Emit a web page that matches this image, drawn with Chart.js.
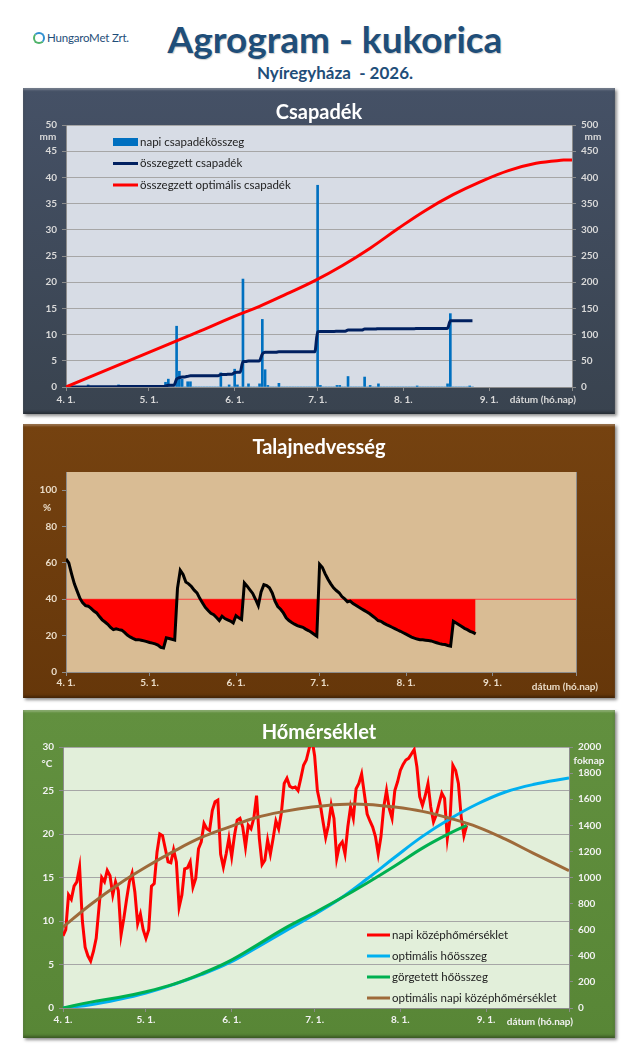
<!DOCTYPE html>
<html>
<head>
<meta charset="utf-8">
<title>Agrogram - kukorica</title>
<script src="https://cdn.jsdelivr.net/npm/chart.js@4.4.1/dist/chart.umd.min.js"></script>
<style>
  body { margin: 0; background: #fff; font-family: Lato, "Open Sans", sans-serif; }
  #page { position: relative; width: 640px; height: 1059px; overflow: hidden; }
  .logo { position: absolute; left: 33px; top: 31px; font-size: 11.5px; color: #1f4e79; letter-spacing: -0.2px; }
  .logo span { display: inline-block; width: 8px; height: 8px; border-radius: 50%; border: 2px solid #2f8fd0;
    border-left-color: #4fb36a; border-bottom-color: #4fb36a; vertical-align: -2px; margin-right: 2px; }
  h1 { position: absolute; left: 0; width: 670px; top: 16px; margin: 0; text-align: center;
    font-size: 37px; line-height: 46px; font-weight: bold; color: #1f4e79; text-shadow: 1px 1px 1px rgba(0,0,0,0.2); }
  h2 { position: absolute; left: 0; width: 670px; top: 62px; margin: 0; text-align: center;
    font-size: 17px; line-height: 22px; font-weight: bold; color: #1f4e79; }
  .panel { position: absolute; left: 23px; width: 592px;
    box-shadow: inset 0 2px 2px rgba(255,255,255,0.25), inset 0 -2px 3px rgba(0,0,0,0.35), 2px 2px 3px rgba(0,0,0,0.45); }
  .panel canvas { position: absolute; left: 0; top: 0; }
  #p1 { top: 88px; height: 326px; background: linear-gradient(#455166, #39434f); }
  #p2 { top: 424px; height: 274px; background: linear-gradient(#754210, #66370a); }
  #p3 { top: 710px; height: 328px; background: linear-gradient(#62903f, #588636); }
</style>
</head>
<body>
<div id="page">
  <div class="logo"><span></span>HungaroMet Zrt.</div>
  <h1>Agrogram - kukorica</h1>
  <h2>Nyíregyháza &nbsp;- 2026.</h2>
  <div class="panel" id="p1"><canvas id="rainChart" width="592" height="326"></canvas></div>
  <div class="panel" id="p2"><canvas id="soilChart" width="592" height="274"></canvas></div>
  <div class="panel" id="p3"><canvas id="tempChart" width="592" height="328"></canvas></div>
</div>
<script>
Chart.defaults.font.family = 'Lato, "Open Sans", sans-serif';
Chart.defaults.animation = false;

// x axis: days from 4. 1.
const monthDays = [0, 30, 61, 91, 122, 153, 183];
const monthLabels = ['4. 1.', '5. 1.', '6. 1.', '7. 1.', '8. 1.', '9. 1.', ''];

// Csapadék (mm / day, from 4. 1.)
const precipDaily = [
  0, 0, 0, 0, 0, 0, 0, 0, 0.4, 0,
  0, 0, 0, 0, 0, 0, 0, 0, 0, 0.4,
  0, 0, 0, 0, 0, 0, 0, 0, 0, 0,
  0, 0, 0, 0, 0, 0, 0.9, 1.5, 0, 0,
  11.6, 3.0, 1.5, 0, 1.0, 1.0, 0, 0, 0, 0,
  0, 0, 0, 0, 0, 0, 2.7, 0, 0, 0.4,
  0, 3.4, 0.4, 0, 20.6, 0, 0.6, 0, 0, 0,
  0.6, 12.9, 3.3, 0.3, 0, 0, 0, 0.7, 0, 0,
  0, 0, 0, 0, 0, 0, 0, 0, 0, 0,
  0, 38.5, 0.3, 0, 0, 0, 0, 0, 0.3, 0.3,
  0, 0, 2.0, 0, 0, 0, 0, 0, 1.9, 0,
  0.3, 0, 0, 0.6, 0, 0, 0, 0, 0, 0,
  0, 0, 0, 0, 0, 0, 0, 0.2, 0, 0,
  0, 0, 0, 0, 0, 0, 0, 0, 0.6, 14.0,
  0, 0, 0, 0, 0, 0, 0.2, 0
];
const precipCumulative = [
  0, 0, 0, 0, 0, 0, 0, 0, 0.4, 0.4,
  0.4, 0.4, 0.4, 0.4, 0.4, 0.4, 0.4, 0.4, 0.4, 0.8,
  0.8, 0.8, 0.8, 0.8, 0.8, 0.8, 0.8, 0.8, 0.8, 0.8,
  0.8, 0.8, 0.8, 0.8, 0.8, 0.8, 1.7, 3.2, 3.2, 3.2,
  14.8, 17.8, 19.3, 19.3, 20.3, 21.3, 21.3, 21.3, 21.3, 21.3,
  21.3, 21.3, 21.3, 21.3, 21.3, 21.3, 24.0, 24.0, 24.0, 24.4,
  24.4, 27.8, 28.2, 28.2, 48.8, 48.8, 49.4, 49.4, 49.4, 49.4,
  50.0, 62.9, 66.2, 66.5, 66.5, 66.5, 66.5, 67.2, 67.2, 67.2,
  67.2, 67.2, 67.2, 67.2, 67.2, 67.2, 67.2, 67.2, 67.2, 67.2,
  67.2, 105.7, 106.0, 106.0, 106.0, 106.0, 106.0, 106.0, 106.3, 106.6,
  106.6, 106.6, 108.6, 108.6, 108.6, 108.6, 108.6, 108.6, 110.5, 110.5,
  110.8, 110.8, 110.8, 111.4, 111.4, 111.4, 111.4, 111.4, 111.4, 111.4,
  111.4, 111.4, 111.4, 111.4, 111.4, 111.4, 111.4, 111.6, 111.6, 111.6,
  111.6, 111.6, 111.6, 111.6, 111.6, 111.6, 111.6, 111.6, 112.2, 126.2,
  126.2, 126.2, 126.2, 126.2, 126.2, 126.2, 126.4, 126.4
];
const precipOptDays = [0, 10, 20, 30, 40, 50, 60, 70, 80, 90, 100, 110, 120, 130, 140, 150, 160, 170, 180, 183];
const precipOptValues = [0, 22, 44, 66, 88, 110, 133, 154, 178, 203, 232, 265, 302, 337, 367, 392, 413, 427, 433, 433];

// Talajnedvesség (%)
const soilMoisture = [
  62.3, 60, 54, 48.5, 44.5, 40.5, 38, 36.5, 36.2, 35,
  33.5, 32.5, 30.5, 28.7, 27.5, 26.2, 24.5, 23.3, 23.7, 23.3,
  23.0, 21.8, 20.3, 19.3, 18.5, 17.8, 17.8, 17.5, 17.1, 16.7,
  16.2, 15.9, 15.5, 14.8, 13.5, 13.2, 18.8, 18.4, 18.0, 17.6,
  46, 56, 53.7, 49.5, 48.5, 47, 45, 43.5, 40.5, 38,
  35.5, 33.8, 32.3, 31.5, 30, 28.3, 30.7, 29.4, 28.7, 28.0,
  27.0, 31.0, 29.8, 28.9, 49, 47.2, 45.2, 43.2, 40, 36.5,
  44, 48, 47.5, 46.3, 43.5, 39, 36, 34.5, 32.5, 29.8,
  28.3, 27.2, 26.3, 25.5, 25.0, 24.6, 23.6, 22.8, 21.9, 20.8,
  19.7, 59.2, 57.5, 54, 51, 48.5, 46.3, 44.8, 43.6, 41.5,
  40.2, 38.6, 39, 37.6, 36.7, 35.7, 34.8, 33.9, 33, 32,
  30.8, 29.6, 28.3, 27.9, 26.9, 26.1, 25.4, 24.6, 23.9, 23.1,
  22.4, 21.6, 20.8, 20.0, 19.2, 18.6, 18.1, 17.8, 17.7, 17.5,
  17.3, 17.1, 16.6, 16.1, 15.6, 15.3, 15.1, 14.6, 14.2, 27.9,
  27.0, 26.0, 25.0, 24.0, 23.3, 22.4, 21.8, 21.0
];
const soilLimit = 40;
const soilTicks = [0, 20, 40, 60, 80, 100];

// Hőmérséklet (°C) and hőösszeg (foknap)
const tempDaily = [
  8.3, 9.0, 13.0, 12.5, 14.0, 14.5, 16.2, 10.0, 7.0, 6.0,
  5.4, 6.5, 8.0, 11.5, 15.0, 14.5, 15.8, 15.2, 13.0, 14.5,
  13.5, 8.4, 10.3, 12.5, 14.5, 15.5, 13.3, 9.7, 10.8, 9.0,
  8.0, 9.0, 14.0, 14.3, 17.9, 20.0, 19.8, 18.3, 16.8, 16.7,
  18.2, 16.8, 11.6, 13.0, 16.0, 16.1, 16.8, 13.9, 14.9, 18.3,
  19.1, 21.2, 20.6, 20.4, 22.7, 23.7, 23.9, 17.7, 16.2, 17.7,
  19.5, 17.4, 19.8, 21.6, 21.8, 20.8, 18.5, 21.0, 20.6, 21.8,
  24.4, 19.5, 16.5, 17.0, 19.3, 17.7, 19.5, 21.5, 20.6, 22.5,
  25.8, 26.4, 25.5, 25.3, 25.4, 25.0, 26.4, 27.9, 28.5, 29.8,
  31.0, 29.0, 25.0, 23.5, 21.5, 19.6, 21.0, 23.3, 21.8, 17.2,
  18.7, 19.1, 17.7, 20.8, 23.1, 21.8, 25.2, 25.8, 26.9, 24.6,
  22.3, 21.5, 20.8, 19.7, 17.7, 19.7, 23.1, 25.0, 22.9, 21.8,
  25.0, 26.0, 27.3, 28.0, 28.5, 28.7, 29.2, 29.7, 27.7, 24.3,
  23.3, 24.4, 25.8, 23.1, 21.4, 22.2, 23.5, 24.7, 24.1, 19.5,
  21.8, 27.9, 27.3, 25.8, 22.0, 19.8, 21.0
];
const tempOptDays = [0, 10, 20, 30, 40, 50, 60, 70, 80, 90, 100, 110, 120, 130, 140, 150, 160, 170, 183];
const tempOptValues = [9.3, 11.9, 14.2, 16.2, 18.0, 19.6, 20.8, 21.9, 22.6, 23.1, 23.4, 23.4, 23.1, 22.6, 21.8, 20.8, 19.4, 17.8, 15.8];
const heatOptDays = [0, 10, 20, 30, 40, 50, 60, 70, 80, 90, 100, 110, 120, 130, 140, 150, 160, 170, 183];
const heatOptValues = [0, 25, 65, 115, 180, 255, 345, 462, 585, 705, 835, 990, 1155, 1315, 1450, 1565, 1655, 1712, 1762];
const heatSumDays = [0, 10, 20, 30, 40, 50, 60, 70, 80, 90, 100, 110, 120, 130, 140, 146];
const heatSumValues = [0, 45, 80, 125, 183, 262, 357, 480, 608, 720, 835, 958, 1088, 1225, 1340, 1400];

const daily = arr => arr.map((v, i) => ({ x: i, y: v }));
const paired = (days, vals) => days.map((d, i) => ({ x: d, y: vals[i] }));

const tickFont = { size: 10, weight: 'bold' };
const axisGray = '#8c8c8c';

// plot area colour
const plotBg = {
  id: 'plotBg',
  beforeDraw(chart, args, opts) {
    const { ctx, chartArea: a } = chart;
    ctx.save();
    ctx.fillStyle = opts.color;
    ctx.fillRect(a.left, a.top, a.width, a.height);
    ctx.restore();
  }
};

// unit texts (mm, %, °C, foknap, dátum)
const axisNotes = {
  id: 'axisNotes',
  afterDraw(chart, args, opts) {
    const { ctx, chartArea: a } = chart;
    ctx.save();
    ctx.font = 'bold 10px Lato, sans-serif';
    ctx.fillStyle = opts.color;
    ctx.textBaseline = 'middle';
    opts.notes.forEach(n => {
      ctx.textAlign = n.align;
      const x = (n.side === 'left' ? a.left : a.right) + n.dx;
      const y = (n.from === 'top' ? a.top : a.bottom) + n.dy;
      ctx.fillText(n.text, x, y);
    });
    ctx.restore();
  }
};

// legend drawn inside the plot area
const insideLegend = {
  id: 'insideLegend',
  afterDatasetsDraw(chart, args, opts) {
    const { ctx, chartArea: a } = chart;
    ctx.save();
    ctx.font = '11.5px Lato, sans-serif';
    ctx.textBaseline = 'middle';
    ctx.textAlign = 'left';
    opts.items.forEach((idx, k) => {
      const ds = chart.data.datasets[idx];
      const x = a.left + opts.x;
      const y = (opts.fromBottom ? a.bottom - opts.y : a.top + opts.y) + k * opts.step;
      if (ds.type === 'bar') {
        ctx.fillStyle = ds.backgroundColor;
        ctx.fillRect(x, y - 4, opts.len, 8);
      } else {
        ctx.strokeStyle = ds.borderColor;
        ctx.lineWidth = 3;
        ctx.beginPath();
        ctx.moveTo(x, y);
        ctx.lineTo(x + opts.len, y);
        ctx.stroke();
      }
      ctx.fillStyle = '#222';
      ctx.fillText(ds.label, x + opts.len + 2, y);
    });
    ctx.restore();
  }
};

function dayAxis(color, height, pad) {
  return {
    type: 'linear', min: 0, max: 183, offset: false,
    afterBuildTicks: s => { s.ticks = monthDays.map(v => ({ value: v })); },
    afterFit: s => { s.height = height; },
    ticks: { color: color, font: tickFont, padding: pad, maxRotation: 0, autoSkip: false,
      callback: (v, i) => monthLabels[i] },
    grid: { drawOnChartArea: false, offset: false, color: axisGray, tickLength: 4 },
    border: { color: axisGray }
  };
}

function valueAxis(pos, max, step, color, width, gridOn) {
  return {
    position: pos, min: 0, max: max,
    afterFit: s => { s.width = width; },
    ticks: { stepSize: step, color: color, font: tickFont, padding: 5, callback: v => String(v) },
    grid: { drawOnChartArea: gridOn, color: '#a6a6a6', tickColor: axisGray, tickLength: 4 },
    border: { color: axisGray }
  };
}

function titleOpts(text, top, bottom) {
  return { display: true, text: text, color: '#ffffff', font: { size: 20, weight: 'bold' },
    padding: { top: top, bottom: bottom } };
}

// Csapadék
new Chart(document.getElementById('rainChart'), {
  type: 'bar',
  data: {
    datasets: [
      { type: 'bar', label: 'napi csapadékösszeg', data: daily(precipDaily), backgroundColor: '#0070c0',
        barThickness: 2, yAxisID: 'y', order: 2 },
      { type: 'line', label: 'összegzett csapadék', data: daily(precipCumulative), borderColor: '#002060',
        borderWidth: 3, pointRadius: 0, cubicInterpolationMode: 'monotone', yAxisID: 'y2', order: 1 },
      { type: 'line', label: 'összegzett optimális csapadék', data: paired(precipOptDays, precipOptValues),
        borderColor: '#ff0000', borderWidth: 3, pointRadius: 0, tension: 0.4, yAxisID: 'y2', order: 0 }
    ]
  },
  options: {
    responsive: false,
    layout: { padding: 0 },
    scales: {
      x: dayAxis('#d9d9d9', 27, 3),
      y: valueAxis('left', 50, 5, '#d9d9d9', 43, true),
      y2: valueAxis('right', 500, 50, '#d9d9d9', 43, false)
    },
    plugins: {
      legend: { display: false },
      tooltip: { enabled: false },
      title: titleOpts('Csapadék', 13, 0),
      plotBg: { color: '#d7dce5' },
      axisNotes: { color: '#d9d9d9', notes: [
        { text: 'mm', side: 'left', dx: -18, from: 'top', dy: 12, align: 'center' },
        { text: 'mm', side: 'right', dx: 21, from: 'top', dy: 12, align: 'center' },
        { text: 'dátum (hó.nap)', side: 'right', dx: 4, from: 'bottom', dy: 13, align: 'right' }
      ] },
      insideLegend: { items: [0, 1, 2], x: 47, y: 17, step: 21.5, len: 25 }
    }
  },
  plugins: [plotBg, axisNotes, insideLegend]
});

// Talajnedvesség
new Chart(document.getElementById('soilChart'), {
  type: 'line',
  data: {
    datasets: [
      { label: 'talajnedvesség', data: daily(soilMoisture), borderColor: '#000000', borderWidth: 3,
        pointRadius: 0, tension: 0, order: 0 },
      { label: 'hiány', data: soilMoisture.map((v, i) => ({ x: i, y: soilLimit })), borderColor: 'rgba(0,0,0,0)',
        borderWidth: 0, pointRadius: 0, order: 1,
        fill: { target: 0, above: '#ff0000', below: 'rgba(0,0,0,0)' } },
      { label: 'határ', data: [{ x: 0, y: soilLimit }, { x: 183, y: soilLimit }], borderColor: '#ff4040',
        borderWidth: 1, pointRadius: 0, order: 2 }
    ]
  },
  options: {
    responsive: false,
    layout: { padding: 0 },
    scales: {
      x: dayAxis('#eadcc8', 26, 1),
      y: {
        position: 'left', min: 0, max: 110,
        afterBuildTicks: s => { s.ticks = soilTicks.map(v => ({ value: v })); },
        afterFit: s => { s.width = 43; },
        ticks: { color: '#eadcc8', font: tickFont, padding: 5 },
        grid: { drawOnChartArea: false, color: axisGray, tickLength: 4 },
        border: { color: axisGray }
      },
      y2: {
        position: 'right', min: 0, max: 110, display: true,
        afterFit: s => { s.width = 39; },
        ticks: { display: false },
        grid: { display: false },
        border: { display: true, color: axisGray }
      }
    },
    plugins: {
      legend: { display: false },
      tooltip: { enabled: false },
      title: titleOpts('Talajnedvesség', 12, 12),
      plotBg: { color: '#d9bc94' },
      axisNotes: { color: '#eadcc8', notes: [
        { text: '%', side: 'left', dx: -19, from: 'top', dy: 36, align: 'center' },
        { text: 'dátum (hó.nap)', side: 'right', dx: 22, from: 'bottom', dy: 15, align: 'right' }
      ] }
    }
  },
  plugins: [plotBg, axisNotes]
});

// Hőmérséklet
new Chart(document.getElementById('tempChart'), {
  type: 'line',
  data: {
    datasets: [
      { label: 'napi középhőmérséklet', data: daily(tempDaily), borderColor: '#ff0000', borderWidth: 3,
        pointRadius: 0, tension: 0, yAxisID: 'y', order: 3 },
      { label: 'optimális hőösszeg', data: paired(heatOptDays, heatOptValues), borderColor: '#00b0f0',
        borderWidth: 3, pointRadius: 0, tension: 0.4, yAxisID: 'y2', order: 2 },
      { label: 'görgetett hőösszeg', data: paired(heatSumDays, heatSumValues), borderColor: '#00b050',
        borderWidth: 3, pointRadius: 0, tension: 0.4, yAxisID: 'y2', order: 1 },
      { label: 'optimális napi középhőmérséklet', data: paired(tempOptDays, tempOptValues), borderColor: '#9e6a3a',
        borderWidth: 3, pointRadius: 0, tension: 0.4, yAxisID: 'y', order: 0 }
    ]
  },
  options: {
    responsive: false,
    layout: { padding: 0 },
    scales: {
      x: dayAxis('#f2f2f2', 30, 2),
      y: valueAxis('left', 30, 5, '#f2f2f2', 40, true),
      y2: valueAxis('right', 2000, 200, '#f2f2f2', 46, false)
    },
    plugins: {
      legend: { display: false },
      tooltip: { enabled: false },
      title: titleOpts('Hőmérséklet', 11, 2),
      plotBg: { color: '#e2efda' },
      axisNotes: { color: '#f2f2f2', notes: [
        { text: '°C', side: 'left', dx: -16, from: 'top', dy: 17, align: 'center' },
        { text: 'foknap', side: 'right', dx: 20, from: 'top', dy: 14, align: 'center' },
        { text: 'dátum (hó.nap)', side: 'right', dx: 4, from: 'bottom', dy: 14, align: 'right' }
      ] },
      insideLegend: { items: [0, 1, 2, 3], x: 304, y: 73, fromBottom: true, step: 21, len: 23 }
    }
  },
  plugins: [plotBg, axisNotes, insideLegend]
});
</script>
</body>
</html>
